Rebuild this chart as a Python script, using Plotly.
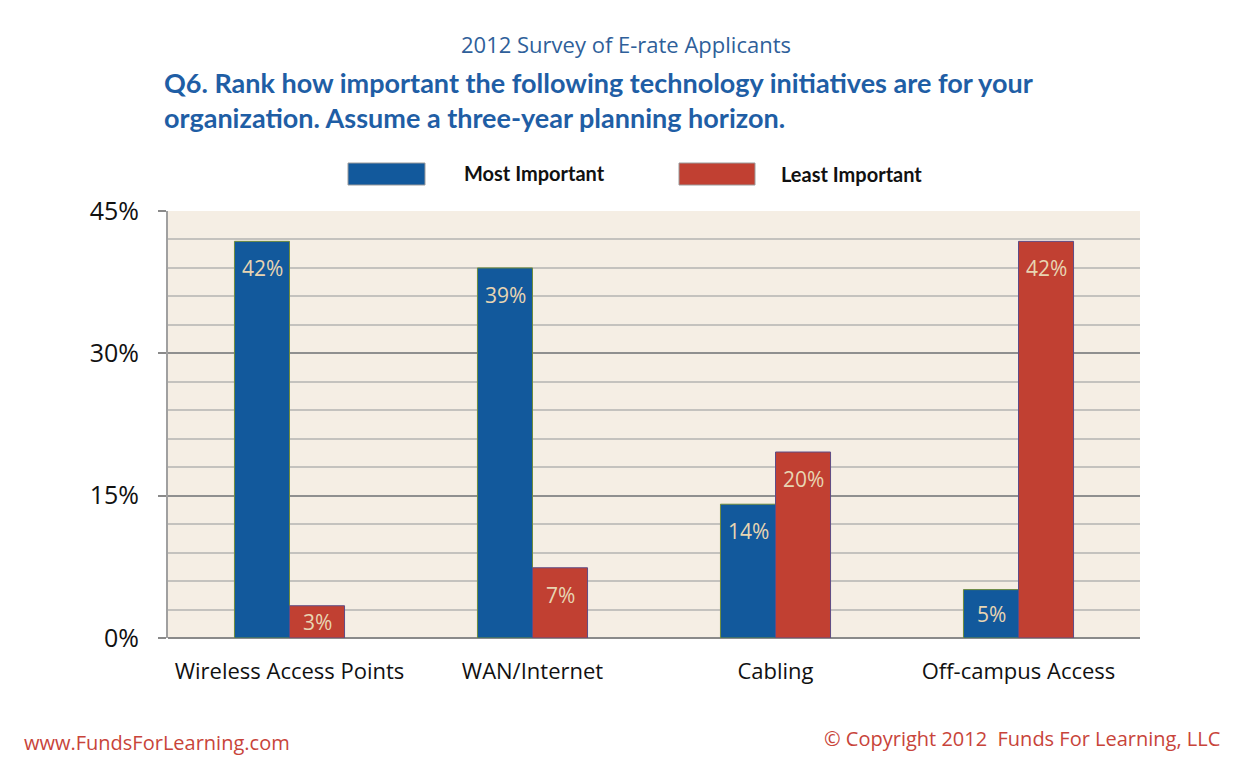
import plotly.graph_objects as go

# ──────────────────────────────────────────────
# Dati
# ──────────────────────────────────────────────
categories = ["Wireless Access Points", "WAN/Internet", "Cabling", "Off-campus Access"]
most_important = [41.8, 39.0, 14.1, 5.1]
least_important = [3.4, 7.4, 19.6, 41.8]
y_ticks = [0, 15, 30, 45]
y_tick_labels = ["0%", "15%", "30%", "45%"]

BLUE = "#12599C"
RED = "#C14032"
LABEL_COLOR = "#E8D5B2"
FONT = "Open Sans"
NARROW = "Lato"

# area del grafico (pixel nell'immagine di riferimento)
PX0, PX1, PY0, PY1 = 168, 1140, 211, 638
Y_MAX = 45


def px(x):
    return (x - PX0) / (PX1 - PX0)


def py(y):
    return (PY1 - y) / (PY1 - PY0)


fig = go.Figure()

annotations = []
series = [
    ("Most Important", most_important, BLUE, "#6E8B3D", -27.5),
    ("Least Important", least_important, RED, "#5E4C86", 27.5),
]
for name, vals, color, edge, shift in series:
    fig.add_trace(go.Bar(
        name=name,
        x=categories, y=vals,
        marker=dict(color=color, line=dict(color=edge, width=1)),
    ))
    # etichette dentro la barra, un po' sotto il bordo superiore
    for cat, v in zip(categories, vals):
        bar_px = v / Y_MAX * (PY1 - PY0)
        annotations.append(dict(
            x=cat, y=v, xref="x", yref="y", text=f"{v:.0f}%",
            xshift=shift, yshift=-min(27, bar_px / 2), showarrow=False,
            xanchor="center", yanchor="middle",
            font=dict(color=LABEL_COLOR, size=21, family=FONT),
        ))

# Legenda disegnata a mano (rettangoli grandi come nell'originale)
shapes = [
    dict(type="rect", xref="paper", yref="paper",
         x0=px(348), x1=px(425), y0=py(185), y1=py(163),
         fillcolor=BLUE, line=dict(color="#9a9a9a", width=1)),
    dict(type="rect", xref="paper", yref="paper",
         x0=px(679), x1=px(755), y0=py(185), y1=py(163),
         fillcolor=RED, line=dict(color="#9a9a9a", width=1)),
]

annotations += [
    dict(text="2012 Survey of E-rate Applicants", xref="paper", yref="paper",
         x=px(626), y=py(44), xanchor="center", yanchor="middle",
         showarrow=False, font=dict(size=22, color="#2F5F9A", family=FONT)),
    dict(text="<b>Q6. Rank how important the following technology initiatives are for your<br>"
              "organization. Assume a three-year planning horizon.</b>",
         xref="paper", yref="paper", align="left",
         x=px(162), y=py(100), xanchor="left", yanchor="middle",
         showarrow=False, font=dict(size=27, color="#1F5EA5", family=NARROW)),
    dict(text="<b>Most Important</b>", xref="paper", yref="paper",
         x=px(462), y=py(173), xanchor="left", yanchor="middle",
         showarrow=False, font=dict(size=20, color="#111111", family=NARROW)),
    dict(text="<b>Least Important</b>", xref="paper", yref="paper",
         x=px(779), y=py(174), xanchor="left", yanchor="middle",
         showarrow=False, font=dict(size=20, color="#111111", family=NARROW)),
    dict(text="www.FundsForLearning.com", xref="paper", yref="paper",
         x=px(22), y=py(742), xanchor="left", yanchor="middle",
         showarrow=False, font=dict(size=20, color="#C8443A", family=FONT)),
    dict(text="© Copyright 2012  Funds For Learning, LLC", xref="paper", yref="paper",
         x=px(1222), y=py(738), xanchor="right", yanchor="middle",
         showarrow=False, font=dict(size=20, color="#C8443A", family=FONT)),
]

# la pagina aggiunge 8 px di margine: si compensa riducendo la figura
OFF = 8
W, H = 1241 - OFF, 759 - OFF

fig.update_layout(
    width=W, height=H,
    margin=dict(l=PX0 - OFF, r=W - (PX1 - OFF), t=PY0 - OFF, b=H - (PY1 - OFF)),
    paper_bgcolor="white",
    plot_bgcolor="#F5EEE4",
    barmode="group",
    bargap=0.547, bargroupgap=0,
    showlegend=False,
    shapes=shapes,
    annotations=annotations,
    font=dict(family=FONT, color="#111111"),
    xaxis=dict(
        showgrid=False, showline=False, ticks="",
        tickfont=dict(size=22, color="#111111", family=FONT),
        ticklabelstandoff=18,
    ),
    yaxis=dict(
        range=[0, Y_MAX],
        tickvals=y_ticks, ticktext=y_tick_labels,
        tickfont=dict(size=25, color="#111111", family=FONT),
        ticks="outside", ticklen=8, tickcolor="#8a8a8a", tickwidth=2,
        ticklabelstandoff=14,
        showgrid=True, gridcolor="#8f8f8f", gridwidth=2,
        minor=dict(dtick=3, showgrid=True, gridcolor="#c4c2be", gridwidth=1.5),
        showline=True, linecolor="#a0a0a0", linewidth=2,
        zeroline=True, zerolinecolor="#8a8a8a", zerolinewidth=2,
        fixedrange=True,
    ),
)

fig.write_html("out.html")
